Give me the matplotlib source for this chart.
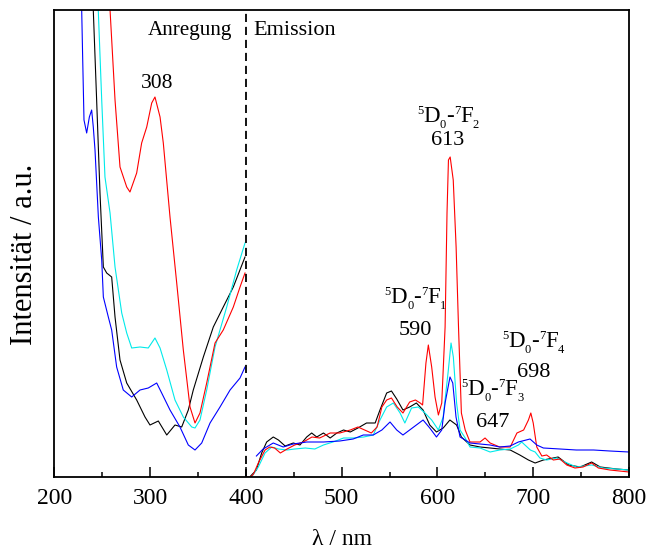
import matplotlib
matplotlib.use("Agg")
import matplotlib.pyplot as plt
from matplotlib.transforms import IdentityTransform

plt.rcParams['font.family'] = ['Liberation Serif', 'DejaVu Serif']

# ---------------- excitation spectra (Anregung) ----------------
red_ex_wl = [255, 258.2, 263.4, 268.6, 275.6, 279, 286, 291.2, 296.5, 301.7, 305.1, 310.4, 313.8,
             320.8, 327.8, 334.7, 341.7, 346.9, 352.1, 359.1, 367.8, 376.4, 386.9, 393.9, 399.1]
red_ex_I = [560, 467, 377, 310, 290, 285, 304, 334, 350, 374, 380, 360, 334,
            260, 194, 127, 70, 54, 64, 94, 134, 147, 170, 190, 204]

cyan_ex_wl = [244, 245.9, 249.5, 252.9, 258.2, 263.4, 270.4, 275.6, 280.8, 289.5, 298.1, 305.1, 310.4,
              317.4, 326, 334.7, 343.5, 346.9, 352.1, 359.1, 367.8, 380, 390.4, 399.1]
cyan_ex_I = [560, 467, 377, 300, 264, 210, 164, 144, 129, 130, 129, 139, 129,
             107, 77, 60, 50, 49, 57, 87, 130, 170, 207, 234]

black_ex_wl = [239, 240.7, 244.2, 247.7, 251.2, 254.7, 259.9, 263.4, 268.6, 275.6, 286, 294.7, 299.9,
               308.6, 317.4, 326, 333, 339.9, 345.1, 355.6, 366, 376.4, 386.9, 399.1]
black_ex_I = [560, 467, 377, 284, 210, 204, 200, 160, 117, 94, 77, 60, 52,
              56, 42, 52, 50, 67, 87, 120, 150, 170, 190, 220]

blue_ex_wl = [228, 228.6, 229.6, 231, 233.8, 236.6, 239, 240.7, 242.5, 246, 249.5, 251.2, 256.4,
              259.9, 265.1, 272, 280.8, 289.5, 298.1, 306.9, 312.1, 320.8, 331.2, 339.9, 346.9,
              353.9, 362.6, 373, 383.5, 393.9, 399.1]
blue_ex_I = [560, 467, 420, 357, 344, 360, 367, 350, 327, 260, 217, 180, 160,
             147, 110, 87, 80, 87, 89, 94, 84, 67, 50, 32, 27,
             34, 54, 70, 87, 99, 110]

# ---------------- emission spectra (Emission) ----------------
red_em_wl = [400, 405, 408, 413, 420, 425, 430, 436, 443, 451, 460, 469, 477, 488, 498, 509, 517, 524,
             531, 537, 542, 547, 552, 558, 564, 571, 577, 582, 584.5, 588, 590.5, 594, 597.5, 601,
             604.5, 608, 610, 611.5, 613.3, 616.5, 619.5, 622, 625, 629, 634, 644.5, 649.7, 655,
             665, 676, 683, 690, 695, 697.5, 700, 703.7, 709, 714, 721, 728, 735, 743.6, 752, 761,
             768, 780, 800]
red_em_I = [0, 0, 3, 14, 27, 30, 29, 24, 28, 32, 35, 40, 39, 44, 44, 47, 50, 47,
            44, 50, 70, 77, 79, 70, 64, 75, 77, 74, 72, 114, 132, 110, 80, 62,
            74, 150, 264, 317, 320, 297, 230, 150, 64, 47, 35, 35, 39, 34,
            30, 30, 44, 47, 57, 64, 54, 30, 21, 22, 17, 18, 12, 9, 10, 14,
            9, 7, 5]

cyan_em_wl = [400, 406, 413, 420, 427, 434, 443, 451, 462, 472, 481, 491, 502, 512, 523, 533, 540,
              547, 554, 561, 566, 573, 580, 587, 594, 601, 606, 611.4, 614.2, 616.6, 620, 623.6,
              629, 634, 644.5, 655, 665, 676, 684.5, 688, 697, 702, 707, 714, 724.5, 733, 745,
              761, 773, 800]
cyan_em_I = [0, 0, 10, 24, 30, 28, 27, 28, 29, 28, 32, 35, 39, 39, 40, 42, 57,
             70, 74, 64, 54, 69, 70, 64, 57, 47, 60, 107, 134, 120, 74, 47,
             39, 30, 29, 25, 27, 28, 32, 35, 27, 25, 19, 17, 19, 15, 10,
             12, 9, 7]

black_em_wl = [400, 404, 411, 416.5, 421.7, 428.6, 434, 441, 449.5, 456.5, 463.5, 468.7, 474, 481,
               488, 495, 502, 509, 517, 526, 535, 540, 547, 552, 557.5, 564, 571, 578, 585, 592,
               599, 606, 613, 620, 625, 634, 644.5, 655, 665, 676, 686, 695, 702, 710.6, 726,
               737, 749, 761, 770, 787, 800]
black_em_I = [0, 0, 7, 24, 35, 40, 37, 31, 34, 32, 40, 44, 40, 44,
              39, 44, 47, 45, 49, 54, 54, 67, 84, 86, 78, 67, 70, 74, 67, 52,
              45, 49, 57, 52, 40, 32, 30, 29, 28, 27, 22, 17, 14, 17, 20,
              12, 10, 15, 10, 8, 7]

blue_em_wl = [411, 418, 428.6, 439, 449.5, 463.5, 481, 498, 512, 522.6, 533, 542, 550.5, 557.5,
              564, 571, 578, 585, 592, 599, 604.5, 608, 613.1, 616, 619.4, 623.6, 629, 634,
              644.5, 655, 665, 676, 684.5, 696.7, 703.7, 710.6, 728, 745, 763, 780, 800]
blue_em_I = [21, 28, 34, 30, 33, 35, 35, 36, 38, 42, 42, 47, 55, 47,
             42, 47, 52, 57, 49, 40, 47, 74, 100, 94, 60, 40, 37, 34,
             33, 32, 30, 31, 35, 38, 32, 29, 28, 27, 27, 26, 25]

xticks = [200, 300, 400, 500, 600, 700, 800]
xminor = [250, 350, 450, 550, 650, 750]

# transition labels 5D0-7Fn with their peak wavelength
trans_sub = ['2', '1', '3', '4']
trans_num = ['613', '590', '647', '698']
trans_x = [611, 577, 657.5, 700]
trans_y_lab = [355, 174, 82, 130]
trans_y_num = [332, 142, 50, 100]

C_RED, C_CYAN, C_BLACK, C_BLUE = '#ff0000', '#00eaea', '#000000', '#0000ff'

DPI = 100
fig = plt.figure(figsize=(6.47, 5.51), dpi=DPI)
ax = fig.add_axes([54.3 / 647, (551 - 477) / 551, (629 - 54.3) / 647, (477 - 10) / 551])

lw = 0.8
ax.plot(black_ex_wl, black_ex_I, color=C_BLACK, lw=lw)
ax.plot(black_em_wl, black_em_I, color=C_BLACK, lw=lw)
ax.plot(cyan_ex_wl, cyan_ex_I, color=C_CYAN, lw=lw)
ax.plot(cyan_em_wl, cyan_em_I, color=C_CYAN, lw=lw)
ax.plot(red_ex_wl, red_ex_I, color=C_RED, lw=lw)
ax.plot(red_em_wl, red_em_I, color=C_RED, lw=lw)
ax.plot(blue_ex_wl, blue_ex_I, color=C_BLUE, lw=lw)
ax.plot(blue_em_wl, blue_em_I, color=C_BLUE, lw=lw)

ax.axvline(400, color='black', lw=1.3, dashes=(4.5, 2.7))

ax.set_xlim(200, 800)
ax.set_ylim(0, 467)
ax.set_xticks(xticks)
ax.set_xticks(xminor, minor=True)
ax.set_yticks([])
ax.tick_params(axis='x', which='major', direction='in', length=7, width=1.1, labelsize=17, pad=8)
ax.tick_params(axis='x', which='minor', direction='in', length=3.5, width=1.1)
for s in ax.spines.values():
    s.set_linewidth(1.3)

ax.set_xlabel('λ / nm', fontsize=17, labelpad=14)
fig.text(25 / 647, 1 - 254 / 551, 'Intensität / a.u.', rotation=90, fontsize=22,
         ha='center', va='center')

ax.text(386, 442, 'Anregung', fontsize=15.2, ha='right', va='baseline')
ax.text(407.5, 442, 'Emission', fontsize=16, ha='left', va='baseline')
ax.text(307.4, 389, '308', fontsize=15.5, ha='center', va='baseline')

renderer = fig.canvas.get_renderer()
BIG, SMALL = 16.5, 9
SUP, SUB = 6.0, -4.5  # points


def compose(x, y, pieces):
    X, Y = ax.transData.transform((x, y))
    widths = []
    for s, size, dy in pieces:
        t = fig.text(0, 0, s, fontsize=size)
        widths.append(t.get_window_extent(renderer).width)
        t.remove()
    cx = X - sum(widths) / 2
    for (s, size, dy), w in zip(pieces, widths):
        fig.text(cx, Y + dy * DPI / 72, s, fontsize=size, transform=IdentityTransform(),
                 ha='left', va='baseline')
        cx += w


for sub, num, x, yl, yn in zip(trans_sub, trans_num, trans_x, trans_y_lab, trans_y_num):
    compose(x, yl, [('5', SMALL, SUP), ('D', BIG, 0), ('0', SMALL, SUB), ('-', BIG, 0),
                    ('7', SMALL, SUP), ('F', BIG, 0), (sub, SMALL, SUB)])
    ax.text(x, yn, num, fontsize=16, ha='center', va='baseline')

fig.savefig('out.png', dpi=DPI)
